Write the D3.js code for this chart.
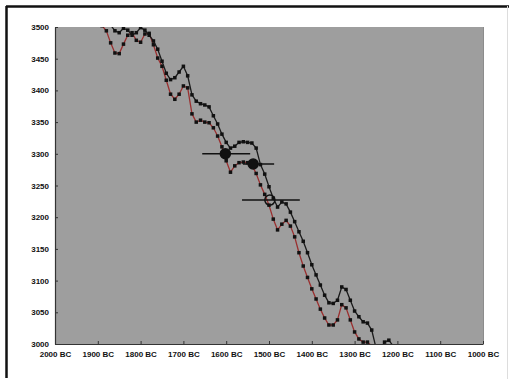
<!DOCTYPE html>
<html>
<head>
<meta charset="utf-8">
<script src="https://cdn.jsdelivr.net/npm/d3@7"></script>
<style>
  body { margin: 0; background: #fff; }
  svg { display: block; font-family: "Liberation Sans", Arial, sans-serif; }
</style>
</head>
<body>
<div id="chart"></div>
<script>
// calendar years BC (every 10 years)
const years = [1900, 1890, 1880, 1870, 1860, 1850, 1840, 1830, 1820, 1810,
  1800, 1790, 1780, 1770, 1760, 1750, 1740, 1730, 1720, 1710,
  1700, 1690, 1680, 1670, 1660, 1650, 1640, 1630, 1620, 1610,
  1600, 1590, 1580, 1570, 1560, 1550, 1540, 1530, 1520, 1510,
  1500, 1490, 1480, 1470, 1460, 1450, 1440, 1430, 1420, 1410,
  1400, 1390, 1380, 1370, 1360, 1350, 1340, 1330, 1320, 1310,
  1300, 1290, 1280, 1270, 1260, 1250, 1240, 1230, 1220, 1210, 1200];

// black curve (14C age BP)
const blackCurve = [null, null, 3515, 3503, 3494, 3491, 3498, 3495, 3487, 3491,
  3499, 3495, 3487, 3478, 3465, 3446, 3427, 3417, 3420, 3429,
  3438, 3423, 3393, 3383, 3379, 3377, 3374, 3360, 3347, 3331,
  3318, 3309, 3312, 3318, 3319, 3318, 3317, 3309, 3283, 3268,
  3248, 3230, 3216, 3224, 3221, 3208, 3193, 3177, 3162, 3144,
  3125, 3109, 3093, 3077, 3065, 3064, 3069, 3090, 3086, 3069,
  3052, 3043, 3035, 3033, 3022, 2994, 2990, 3003, 3006, 2997, 2985];

// red curve (14C age BP)
const redCurve = [3525, 3502, 3494, 3475, 3459, 3458, 3473, 3487, 3491, 3479,
  3476, 3489, 3490, 3472, 3451, 3438, 3416, 3394, 3386, 3394,
  3407, 3404, 3363, 3350, 3353, 3350, 3349, 3341, 3328, 3311,
  3289, 3271, 3281, 3286, 3287, 3286, 3282, 3269, 3251, 3236,
  3219, 3197, 3180, 3189, 3195, 3186, 3169, 3144, 3123, 3105,
  3087, 3071, 3055, 3041, 3030, 3030, 3038, 3062, 3057, 3038,
  3019, 3008, 3003, 3003, 2997, 2985, null, null, null, null, null];

// samples with horizontal ranges
const sampleYear = [1602, 1537, 1498];
const sampleAge = [3300, 3284, 3227];
const sampleFrom = [1656, 1561, 1563];
const sampleTo = [1544, 1488, 1428];
const sampleFilled = [true, true, false];

const xTicks = [2000, 1900, 1800, 1700, 1600, 1500, 1400, 1300, 1200, 1100, 1000];
const yTicks = [3000, 3050, 3100, 3150, 3200, 3250, 3300, 3350, 3400, 3450, 3500];

const width = 509, height = 379;
const plotLeft = 55, plotRight = 483, plotTop = 27, plotBottom = 344;

const svg = d3.select("#chart").append("svg")
  .attr("width", width)
  .attr("height", height);

// outer frame
svg.append("line").attr("x1", 6).attr("x2", 509).attr("y1", 6.5).attr("y2", 6.5)
  .attr("stroke", "#111").attr("stroke-width", 2.5);
svg.append("line").attr("x1", 6.5).attr("x2", 6.5).attr("y1", 6).attr("y2", 378)
  .attr("stroke", "#111").attr("stroke-width", 2.5);
svg.append("line").attr("x1", 507.5).attr("x2", 507.5).attr("y1", 6).attr("y2", 379)
  .attr("stroke", "#ddd");

const x = d3.scaleLinear().domain([2000, 1000]).range([plotLeft, plotRight]);
const y = d3.scaleLinear().domain([3000, 3500]).range([plotBottom, plotTop]);

// plot area
svg.append("rect")
  .attr("x", plotLeft).attr("y", plotTop)
  .attr("width", plotRight - plotLeft).attr("height", plotBottom - plotTop)
  .attr("fill", "#9e9e9e");
svg.append("line").attr("x1", plotRight + 0.5).attr("x2", plotRight + 0.5)
  .attr("y1", plotTop).attr("y2", plotBottom)
  .attr("stroke", "#8c8c8c");

svg.append("clipPath").attr("id", "plotclip")
  .append("rect")
  .attr("x", plotLeft).attr("y", plotTop)
  .attr("width", plotRight - plotLeft).attr("height", plotBottom - plotTop);

const plot = svg.append("g").attr("clip-path", "url(#plotclip)");

function drawCurve(values, lineColor) {
  const pts = years.map((yr, i) => ({ yr: yr, v: values[i] })).filter(d => d.v !== null);
  const line = d3.line()
    .x(d => x(d.yr))
    .y(d => y(d.v));
  plot.append("path")
    .datum(pts)
    .attr("fill", "none")
    .attr("stroke", lineColor)
    .attr("stroke-width", 1.3)
    .attr("d", line);
  plot.selectAll(null)
    .data(pts)
    .enter()
    .append("rect")
    .attr("x", d => x(d.yr) - 1.75)
    .attr("y", d => y(d.v) - 1.75)
    .attr("width", 3.5)
    .attr("height", 3.5)
    .attr("fill", "#111");
}

drawCurve(redCurve, "#9a2f2f");
drawCurve(blackCurve, "#1a1a1a");

// samples
const samples = sampleYear.map((yr, i) => ({
  yr: yr, age: sampleAge[i], from: sampleFrom[i], to: sampleTo[i], filled: sampleFilled[i]
}));

plot.selectAll(null)
  .data(samples)
  .enter()
  .append("line")
  .attr("x1", d => x(d.from))
  .attr("x2", d => x(d.to))
  .attr("y1", d => y(d.age))
  .attr("y2", d => y(d.age))
  .attr("stroke", "#111")
  .attr("stroke-width", 1.5);

plot.selectAll(null)
  .data(samples)
  .enter()
  .append("circle")
  .attr("cx", d => x(d.yr))
  .attr("cy", d => y(d.age))
  .attr("r", 5)
  .attr("fill", d => d.filled ? "#111" : "none")
  .attr("stroke", "#111")
  .attr("stroke-width", 1.5);

// axes
const xAxis = svg.append("g")
  .attr("transform", "translate(0," + plotBottom + ")")
  .call(d3.axisBottom(x)
    .tickValues(xTicks)
    .tickFormat(d => d + " BC")
    .tickSizeInner(-3)
    .tickSizeOuter(0)
    .tickPadding(7));

const yAxis = svg.append("g")
  .attr("transform", "translate(" + plotLeft + ",0)")
  .call(d3.axisLeft(y)
    .tickValues(yTicks)
    .tickFormat(d3.format("d"))
    .tickSizeInner(-3)
    .tickSizeOuter(0)
    .tickPadding(6));

[xAxis, yAxis].forEach(g => {
  g.select(".domain").attr("stroke", "#333").attr("stroke-width", 1.2);
  g.selectAll(".tick line").attr("stroke", "#333");
  g.selectAll(".tick text")
    .attr("fill", "#111")
    .style("font-size", "8px")
    .style("font-weight", "bold")
    .style("font-family", "'Liberation Sans', Arial, sans-serif");
});
</script>
</body>
</html>
